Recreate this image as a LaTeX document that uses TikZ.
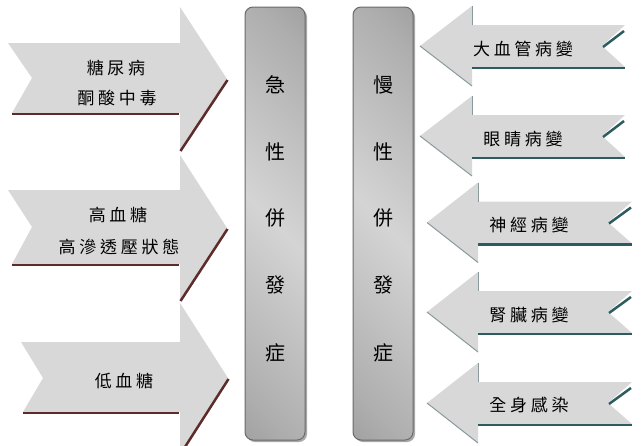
\documentclass[tikz,border=0pt]{standalone}
\usepackage{fontspec}
\newfontfamily\cjk{Noto Sans CJK TC}
\newfontfamily\cjkls[LetterSpace=22]{Noto Sans CJK TC}
\definecolor{arrowgray}{HTML}{D8D8D8}
\definecolor{lshadowc}{HTML}{5E2B2B}
\definecolor{rshadowc}{HTML}{2D5C60}
\definecolor{redgec}{HTML}{8A9A9C}
\definecolor{pdark}{HTML}{888888}
\definecolor{pmid}{HTML}{AFAFAF}
\definecolor{plight}{HTML}{D4D4D4}
\definecolor{pborder}{HTML}{6A6A6A}
\definecolor{pshadow}{HTML}{A8A8A8}
\pgfdeclareverticalshading{pillarsh}{100bp}{color(0bp)=(pdark); color(22bp)=(pmid); color(50bp)=(plight); color(78bp)=(pmid); color(100bp)=(pdark)}
\tikzset{
  arrowfill/.style={fill=arrowgray},
  lshadow/.style={draw=lshadowc, line width=2.5pt},
  rshadow/.style={draw=rshadowc, line width=2.5pt},
  redge/.style={draw=redgec, line width=1pt},
  pillarshadow/.style={fill=pshadow, rounded corners=8pt},
  pillarshade/.style={rounded corners=8pt, shading=pillarsh, shading angle=-45},
  pillar/.style={draw=pborder, line width=1pt, rounded corners=8pt,
    minimum width=60pt, minimum height=433pt, inner sep=0pt},
  lbl/.style={font=\cjkls\fontsize{17}{20}\selectfont, inner sep=0pt, text=black},
  ptxt/.style={font=\cjk\fontsize{20}{24}\selectfont, inner sep=0pt, text=black},
}
\newcommand\myRArrow[5]{% #1 centre y, #2 tip x, #3 head x, #4 right x, #5 notch x
  \fill[arrowfill] (#2,#1) -- (#3,#1-40) -- (#3,#1-21) -- (#4,#1-21) -- (#5,#1)
     -- (#4,#1+21) -- (#3,#1+21) -- (#3,#1+40) -- cycle;
  \draw[redge] (#2,#1) -- (#3,#1+40);
  \draw[redge] (#3,#1-40) -- (#3,#1-21);
  \draw[rshadow] (#3,#1+22) -- (#4,#1+22);
  \draw[rshadow] (#5+1,#1+1) -- (#4-1,#1-15);
}
\newcommand\myPillar[2]{% #1 name, #2 left x
  \fill[pillarshadow] (#2+2,9) rectangle (#2+62,442);
  \shade[pillarshade] (#2,7) rectangle (#2+60,440);
  \node[pillar] (#1) at (#2+30,223.5) {};
}
\begin{document}
\begin{tikzpicture}[x=1pt,y=-1pt]
\useasboundingbox (0,0) rectangle (644,445);
\fill[white] (0,0) rectangle (644,445);

% left arrows
\fill[arrowfill] (8,43) -- (180,43) -- (180,7) -- (227,79) -- (180,150) -- (180,113) -- (12,113) -- (32,78) -- cycle;
\draw[lshadow] (12,114) -- (179,114);
\draw[lshadow] (227.5,80) -- (180.5,151);
\fill[arrowfill] (8,190) -- (180,190) -- (180,155) -- (227,228) -- (180,300) -- (180,264) -- (12,264) -- (32,227) -- cycle;
\draw[lshadow] (12,265) -- (179,265);
\draw[lshadow] (227.5,229) -- (180.5,301);
\fill[arrowfill] (21,342) -- (180,342) -- (180,303) -- (228,378) -- (180,453) -- (180,412) -- (23,412) -- (43,378) -- cycle;
\draw[lshadow] (23,413) -- (179,413);
\draw[lshadow] (228.5,379) -- (180.5,454);

\node[lbl] (a1l1) at (116,68) {糖尿病};
\node[lbl] (a1l2) at (117,98) {酮酸中毒};
\node[lbl] (a2l1) at (118,215) {高血糖};
\node[lbl] (a2l2) at (119,247) {高滲透壓狀態};
\node[lbl] (a3l1) at (124,381) {低血糖};

% pillars
\myPillar{p1}{245}
\myPillar{p2}{353}
\node[ptxt] (p1a) at (p1.center |- 0,85) {急};
\node[ptxt] (p1b) at (p1.center |- 0,152) {性};
\node[ptxt] (p1c) at (p1.center |- 0,218) {併};
\node[ptxt] (p1d) at (p1.center |- 0,285) {發};
\node[ptxt] (p1e) at (p1.center |- 0,353) {症};
\node[ptxt] (p2a) at (p2.center |- 0,85) {慢};
\node[ptxt] (p2b) at (p2.center |- 0,152) {性};
\node[ptxt] (p2c) at (p2.center |- 0,218) {併};
\node[ptxt] (p2d) at (p2.center |- 0,285) {發};
\node[ptxt] (p2e) at (p2.center |- 0,353) {症};

% right arrows
\myRArrow{46}{420}{472}{625}{602}
\myRArrow{136}{420}{472}{625}{602}
\myRArrow{222.5}{427}{478}{632}{608}
\myRArrow{312}{427}{478}{632}{608}
\myRArrow{403}{427}{478}{632}{608}

\node[lbl] (b1) at (523,49) {大血管病變};
\node[lbl] (b2) at (523,139) {眼睛病變};
\node[lbl] (b3) at (529,225) {神經病變};
\node[lbl] (b4) at (529,315) {腎臟病變};
\node[lbl] (b5) at (529,405) {全身感染};
\end{tikzpicture}
\end{document}
